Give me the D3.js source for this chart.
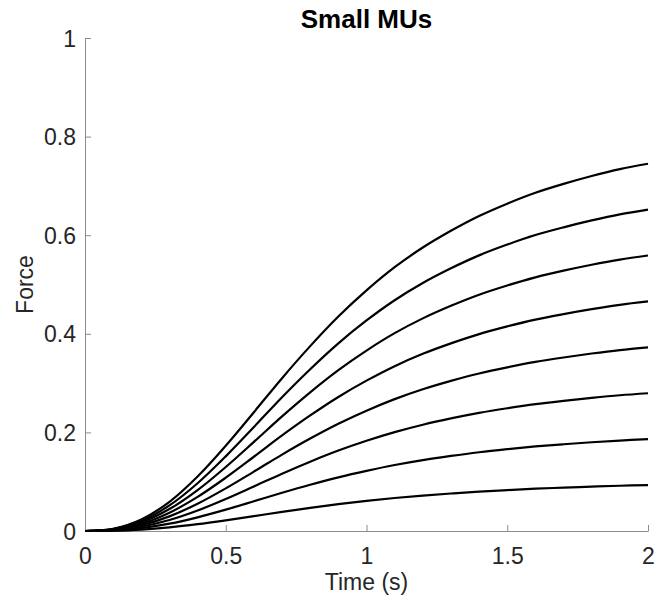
<!DOCTYPE html>
<html>
<head>
<meta charset="utf-8">
<script src="https://cdn.jsdelivr.net/npm/d3@7/dist/d3.min.js"></script>
<style>
  html, body { margin: 0; padding: 0; background: #ffffff; }
  svg { display: block; }
</style>
</head>
<body>
<svg id="chart" width="657" height="603"></svg>
<script>
// ---- data ----
const time = [0, 0.1, 0.2, 0.3, 0.4, 0.5, 0.6, 0.7, 0.8, 0.9, 1.0, 1.1, 1.2, 1.3, 1.4, 1.5, 1.6, 1.7, 1.8, 1.9, 2.0];
const mu1 = [0, 0.0006, 0.0029, 0.0074, 0.0138, 0.0216, 0.0301, 0.0388, 0.0469, 0.0544, 0.0610, 0.0669, 0.0719, 0.0761, 0.0799, 0.0830, 0.0858, 0.0880, 0.0900, 0.0918, 0.0931];
const mu2 = [0, 0.0011, 0.0059, 0.0148, 0.0277, 0.0433, 0.0603, 0.0775, 0.0938, 0.1088, 0.1220, 0.1338, 0.1438, 0.1523, 0.1598, 0.1660, 0.1715, 0.1760, 0.1800, 0.1835, 0.1863];
const mu3 = [0, 0.0017, 0.0088, 0.0222, 0.0415, 0.0649, 0.0904, 0.1163, 0.1406, 0.1631, 0.1830, 0.2006, 0.2156, 0.2284, 0.2396, 0.2490, 0.2573, 0.2640, 0.2700, 0.2753, 0.2794];
const mu4 = [0, 0.0023, 0.0117, 0.0297, 0.0554, 0.0865, 0.1205, 0.1550, 0.1875, 0.2175, 0.2440, 0.2675, 0.2875, 0.3045, 0.3195, 0.3320, 0.3430, 0.3520, 0.3600, 0.3670, 0.3725];
const mu5 = [0, 0.0028, 0.0146, 0.0371, 0.0692, 0.1081, 0.1506, 0.1938, 0.2344, 0.2719, 0.3050, 0.3344, 0.3594, 0.3806, 0.3994, 0.4150, 0.4288, 0.4400, 0.4500, 0.4588, 0.4656];
const mu6 = [0, 0.0034, 0.0176, 0.0445, 0.0830, 0.1298, 0.1808, 0.2325, 0.2813, 0.3263, 0.3660, 0.4013, 0.4313, 0.4568, 0.4793, 0.4980, 0.5145, 0.5280, 0.5400, 0.5505, 0.5588];
const mu7 = [0, 0.0039, 0.0205, 0.0519, 0.0969, 0.1514, 0.2109, 0.2713, 0.3281, 0.3806, 0.4270, 0.4681, 0.5031, 0.5329, 0.5591, 0.5810, 0.6003, 0.6160, 0.6300, 0.6423, 0.6519];
const mu8 = [0, 0.0045, 0.0234, 0.0593, 0.1107, 0.1730, 0.2410, 0.3100, 0.3750, 0.4350, 0.4880, 0.5350, 0.5750, 0.6090, 0.6390, 0.6640, 0.6860, 0.7040, 0.7200, 0.7340, 0.7450];
const seriesList = [mu1, mu2, mu3, mu4, mu5, mu6, mu7, mu8];

const xTicks = [0, 0.5, 1, 1.5, 2];
const xTickLabels = ["0", "0.5", "1", "1.5", "2"];
const yTicks = [0, 0.2, 0.4, 0.6, 0.8, 1];
const yTickLabels = ["0", "0.2", "0.4", "0.6", "0.8", "1"];

const titleText = "Small MUs";
const xLabelText = "Time (s)";
const yLabelText = "Force";

// ---- layout ----
const plot = { left: 85, right: 648, top: 38, bottom: 531 };
const FONT = "'Liberation Sans', Arial, Helvetica, sans-serif";
const axisColor = "#8c8c8c";
const textColor = "#262626";

const svg = d3.select("#chart");

const x = d3.scaleLinear().domain([0, 2]).range([plot.left, plot.right]);
const y = d3.scaleLinear().domain([0, 1]).range([plot.bottom, plot.top]);

// ---- axes ----
const xAxis = d3.axisBottom(x)
  .tickValues(xTicks)
  .tickFormat((d, i) => xTickLabels[i])
  .tickSizeInner(-6).tickSizeOuter(0).tickPadding(17);
const yAxis = d3.axisLeft(y)
  .tickValues(yTicks)
  .tickFormat((d, i) => yTickLabels[i])
  .tickSizeInner(-6).tickSizeOuter(0).tickPadding(9);

const gx = svg.append("g").attr("transform", `translate(0,${plot.bottom})`).call(xAxis);
const gy = svg.append("g").attr("transform", `translate(${plot.left},0)`).call(yAxis);

[gx, gy].forEach(g => {
  g.select(".domain").attr("stroke", axisColor).attr("stroke-width", 1);
  g.selectAll(".tick line").attr("stroke", axisColor).attr("stroke-width", 1);
  g.selectAll(".tick text")
    .attr("fill", textColor)
    .style("font-family", FONT)
    .style("font-size", "23px");
});
gy.selectAll(".tick text").attr("dy", "0.35em");

// ---- curves ----
const line = d3.line()
  .x((d, i) => x(time[i]))
  .y(d => y(d))
  .curve(d3.curveCatmullRom.alpha(0.5));

svg.append("g")
  .selectAll("path")
  .data(seriesList)
  .join("path")
  .attr("d", d => line(d))
  .attr("fill", "none")
  .attr("stroke", "#000000")
  .attr("stroke-width", 2.2)
  .attr("stroke-linejoin", "round");

// ---- labels ----
svg.append("text")
  .attr("x", (plot.left + plot.right) / 2)
  .attr("y", 28)
  .attr("text-anchor", "middle")
  .attr("fill", "#000")
  .style("font-family", FONT)
  .style("font-size", "26px")
  .style("font-weight", "bold")
  .text(titleText);

svg.append("text")
  .attr("x", (plot.left + plot.right) / 2)
  .attr("y", 590)
  .attr("text-anchor", "middle")
  .attr("fill", textColor)
  .style("font-family", FONT)
  .style("font-size", "23px")
  .text(xLabelText);

svg.append("text")
  .attr("transform", `translate(33,${(plot.top + plot.bottom) / 2}) rotate(-90)`)
  .attr("text-anchor", "middle")
  .attr("fill", textColor)
  .style("font-family", FONT)
  .style("font-size", "23px")
  .text(yLabelText);
</script>
</body>
</html>
